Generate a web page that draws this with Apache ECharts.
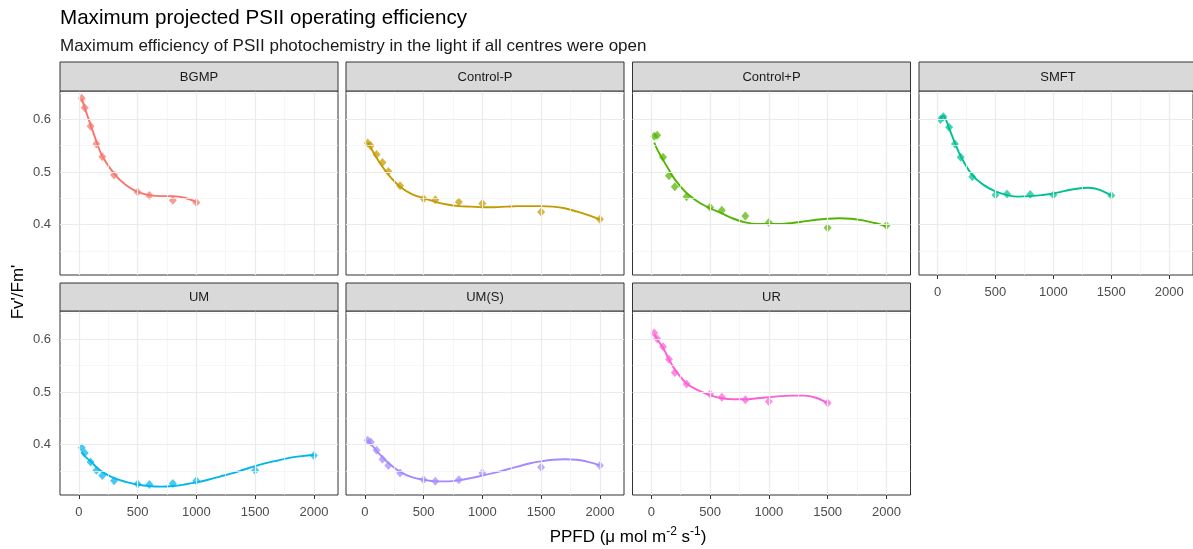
<!DOCTYPE html>
<html><head><meta charset="utf-8">
<script src="https://cdn.jsdelivr.net/npm/echarts@6/dist/echarts.min.js"></script>
<style>html,body{margin:0;padding:0;background:#fff}#c{width:1193px;height:549px}</style>
</head><body><div id="c"></div>
<script>
// ---------------- data ----------------
const panelNames = ['BGMP', 'Control-P', 'Control+P', 'SMFT', 'UM', 'UM(S)', 'UR'];
const panelColors = ['#F8766D', '#C49A00', '#53B400', '#00C094', '#00B6EB', '#A58AFF', '#FB61D7'];

// measured PPFD levels
const ppfd = [25, 50, 100, 150, 200, 300, 500, 600, 800, 1000, 1500, 2000];

// observed Fv'/Fm' (points)
const obsBGMP     = [0.640, 0.622, 0.587, 0.553, 0.529, 0.494, 0.462, 0.455, 0.446, 0.442];
const obsControlM = [0.555, 0.550, 0.533, 0.518, 0.501, 0.474, 0.449, 0.447, 0.443, 0.440, 0.424, 0.410];
const obsControlP = [0.568, 0.570, 0.528, 0.493, 0.472, 0.453, 0.433, 0.427, 0.416, 0.404, 0.394, 0.398];
const obsSMFT     = [0.600, 0.605, 0.585, 0.553, 0.528, 0.491, 0.456, 0.458, 0.457, 0.456, 0.455];
const obsUM       = [0.394, 0.384, 0.367, 0.351, 0.341, 0.331, 0.325, 0.324, 0.326, 0.331, 0.351, 0.379];
const obsUMS      = [0.408, 0.405, 0.389, 0.372, 0.360, 0.346, 0.333, 0.330, 0.333, 0.346, 0.357, 0.360];
const obsUR       = [0.612, 0.601, 0.586, 0.562, 0.537, 0.515, 0.496, 0.490, 0.485, 0.482, 0.479];

// smoothed fit at these PPFD values
const fitX = [25, 50, 100, 150, 200, 300, 400, 500, 600, 700, 800, 900, 1000, 1100, 1200, 1300, 1400, 1500, 1600, 1700, 1800, 1900, 2000];
const fitBGMP     = [0.640, 0.622, 0.590, 0.558, 0.530, 0.497, 0.475, 0.462, 0.456, 0.454, 0.454, 0.451, 0.443];
const fitControlM = [0.556, 0.546, 0.527, 0.510, 0.495, 0.472, 0.458, 0.450, 0.443, 0.438, 0.435, 0.434, 0.433, 0.433, 0.434, 0.435, 0.435, 0.435, 0.434, 0.431, 0.425, 0.418, 0.410];
const fitControlP = [0.556, 0.543, 0.523, 0.504, 0.486, 0.460, 0.443, 0.431, 0.421, 0.411, 0.404, 0.401, 0.401, 0.401, 0.403, 0.406, 0.409, 0.411, 0.412, 0.411, 0.408, 0.403, 0.397];
const fitSMFT     = [0.600, 0.607, 0.583, 0.555, 0.530, 0.494, 0.475, 0.463, 0.456, 0.453, 0.454, 0.456, 0.459, 0.464, 0.468, 0.470, 0.466, 0.455];
const fitUM       = [0.385, 0.378, 0.368, 0.357, 0.348, 0.336, 0.329, 0.324, 0.321, 0.320, 0.321, 0.324, 0.328, 0.333, 0.339, 0.345, 0.352, 0.359, 0.365, 0.370, 0.375, 0.378, 0.380];
const fitUMS      = [0.409, 0.402, 0.388, 0.376, 0.365, 0.348, 0.338, 0.333, 0.330, 0.330, 0.332, 0.336, 0.341, 0.346, 0.352, 0.358, 0.364, 0.368, 0.371, 0.372, 0.371, 0.367, 0.360];
const fitUR       = [0.610, 0.600, 0.584, 0.562, 0.543, 0.516, 0.503, 0.494, 0.488, 0.486, 0.486, 0.488, 0.490, 0.492, 0.493, 0.493, 0.489, 0.479];

const xTicks = [0, 500, 1000, 1500, 2000];
const xMinor = [250, 750, 1250, 1750];
const yTicks = [0.4, 0.5, 0.6];
const yMinor = [0.35, 0.45, 0.55, 0.65];

const titleText = 'Maximum projected PSII operating efficiency';
const subtitleText = 'Maximum efficiency of PSII photochemistry in the light if all centres were open';
const yTitle = "Fv'/Fm'";

const obsAll = [obsBGMP, obsControlM, obsControlP, obsSMFT, obsUM, obsUMS, obsUR];
const fitAll = [fitBGMP, fitControlM, fitControlP, fitSMFT, fitUM, fitUMS, fitUR];

// ---------------- layout ----------------
const FONT = 'Liberation Sans, Arial, sans-serif';
const colLeft = [60, 346, 632.5, 919];
const panelW = 278;
const rowPlotTop = [91, 311];
const plotH = 184;
const rowStripTop = [62, 283];
const X_MIN = -160, X_MAX = 2205, Y_MIN = 0.304, Y_MAX = 0.654;

const grids = [], xAxes = [], yAxes = [], series = [], graphics = [];

panelNames.forEach((name, i) => {
  const r = Math.floor(i / 4), c = i % 4;
  const left = colLeft[c], top = rowPlotTop[r];
  grids.push({ left: left, top: top, width: panelW, height: plotH, show: true,
    backgroundColor: '#fff', borderColor: '#333333', borderWidth: 1, containLabel: false });
  const showX = (r === 1) || (c === 3);
  const showY = (c === 0);
  xAxes.push({ type: 'value', gridIndex: i, min: X_MIN, max: X_MAX,
    axisLine: { show: false }, splitLine: { show: false },
    axisTick: { show: showX, customValues: xTicks, length: 4, lineStyle: { color: '#333333' } },
    axisLabel: { show: showX, customValues: xTicks, color: '#4D4D4D', fontSize: 13, fontFamily: FONT, margin: 10.5,
      formatter: v => String(v) } });
  yAxes.push({ type: 'value', gridIndex: i, min: Y_MIN, max: Y_MAX,
    axisLine: { show: false }, splitLine: { show: false },
    axisTick: { show: showY, customValues: yTicks, length: 4, lineStyle: { color: '#333333' } },
    axisLabel: { show: showY, customValues: yTicks, color: '#4D4D4D', fontSize: 13, fontFamily: FONT, margin: 9,
      formatter: v => v.toFixed(1) } });

  // background grid lines
  const ml = [];
  xMinor.forEach(v => ml.push({ xAxis: v, lineStyle: { color: '#F2F2F2', width: 0.7, type: 'solid' } }));
  yMinor.forEach(v => ml.push({ yAxis: v, lineStyle: { color: '#F2F2F2', width: 0.7, type: 'solid' } }));
  xTicks.forEach(v => ml.push({ xAxis: v, lineStyle: { color: '#EBEBEB', width: 1.2, type: 'solid' } }));
  yTicks.forEach(v => ml.push({ yAxis: v, lineStyle: { color: '#EBEBEB', width: 1.2, type: 'solid' } }));
  series.push({ type: 'line', xAxisIndex: i, yAxisIndex: i, data: [], z: 1, silent: true,
    markLine: { silent: true, symbol: ['none', 'none'], label: { show: false }, animation: false, data: ml } });

  const obs = obsAll[i];
  series.push({ type: 'scatter', name: name, xAxisIndex: i, yAxisIndex: i, z: 2,
    symbol: 'diamond', symbolSize: [8, 9],
    itemStyle: { color: panelColors[i], opacity: 0.72 },
    data: obs.map((v, j) => [ppfd[j], v]) });
  const fit = fitAll[i];
  series.push({ type: 'line', name: name + ' fit', xAxisIndex: i, yAxisIndex: i, z: 3,
    smooth: 0.35, showSymbol: false, symbol: 'none',
    lineStyle: { color: panelColors[i], width: 1.9 },
    data: fit.map((v, j) => [fitX[j], v]) });

  // strip
  const sTop = rowStripTop[r], sH = rowPlotTop[r] - rowStripTop[r];
  graphics.push({ type: 'rect', shape: { x: left, y: sTop, width: panelW, height: sH },
    style: { fill: '#D9D9D9', stroke: '#333333', lineWidth: 1 }, z: 10 });
  graphics.push({ type: 'text', x: left + panelW / 2, y: sTop + sH / 2 + 0.5,
    style: { text: name, fill: '#1A1A1A', font: '13px ' + FONT, align: 'center', verticalAlign: 'middle' }, z: 11 });
});

graphics.push({ type: 'text', x: 60, y: 18.5,
  style: { text: titleText, fill: '#000', font: '20.6px ' + FONT, align: 'left', verticalAlign: 'middle' } });
graphics.push({ type: 'text', x: 60, y: 46,
  style: { text: subtitleText, fill: '#1A1A1A', font: '17px ' + FONT, align: 'left', verticalAlign: 'middle' } });
graphics.push({ type: 'text', x: 18, y: 292, rotation: Math.PI / 2,
  style: { text: yTitle, fill: '#000', font: '17px ' + FONT, align: 'center', verticalAlign: 'middle' } });
graphics.push({ type: 'text', x: 628, y: 537.5,
  style: { text: 'PPFD (μ mol m{sup|-2} s{sup|-1})', fill: '#000', font: '17px ' + FONT,
    align: 'center', verticalAlign: 'middle',
    rich: { sup: { fontSize: 12, fontFamily: FONT, fill: '#000', verticalAlign: 'top', lineHeight: 24 } } } });

const chart = echarts.init(document.getElementById('c'), null, { renderer: 'canvas' });
chart.setOption({
  animation: false,
  backgroundColor: '#ffffff',
  grid: grids, xAxis: xAxes, yAxis: yAxes, series: series, graphic: graphics
});
</script></body></html>
